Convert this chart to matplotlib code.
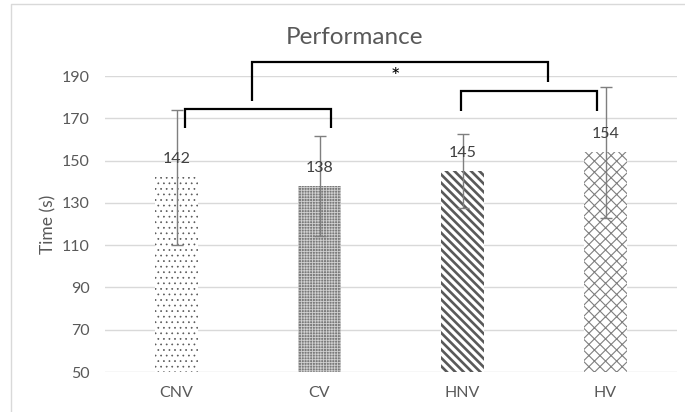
import matplotlib
matplotlib.use("Agg")
import matplotlib.pyplot as plt
from matplotlib.lines import Line2D

plt.rcParams['font.family'] = ['Lato', 'DejaVu Sans']

categories = ["CNV", "CV", "HNV", "HV"]
means = [142, 138, 145, 154]
errors = [32, 23.5, 17.5, 31]
yticks = [50, 70, 90, 110, 130, 150, 170, 190]

W, H = 685, 412
fig = plt.figure(figsize=(W / 100, H / 100), dpi=100)
fig.patch.set_facecolor("white")

# chart-area frame (left and top edges visible)
fig.add_artist(Line2D([11 / W, 11 / W, 1.0], [0.0, 1 - 4 / H, 1 - 4 / H],
                      color="#d9d9d9", lw=1.0, transform=fig.transFigure))

ax = fig.add_axes([105 / W, 40 / H, 572 / W, 296 / H])
ax.set_xlim(-0.5, len(categories) - 0.5)
ax.set_ylim(yticks[0], yticks[-1])

for yv in yticks:
    ax.axhline(yv, color="#d9d9d9", lw=1.0, zorder=0)

styles = [
    dict(facecolor="white", edgecolor="#595959", hatch="...", hlw=0.5),
    dict(facecolor="#7a7a7a", edgecolor="#d0d0d0", hatch="++++++", hlw=0.6),
    dict(facecolor="white", edgecolor="#595959", hatch="\\\\\\\\", hlw=1.9),
    dict(facecolor="white", edgecolor="#7f7f7f", hatch="xxx", hlw=0.8),
]

x = list(range(len(categories)))
for i, (xi, m, st) in enumerate(zip(x, means, styles)):
    with plt.rc_context({"hatch.linewidth": st["hlw"]}):
        bars = ax.bar(xi, m - yticks[0], bottom=yticks[0], width=0.30,
                      facecolor=st["facecolor"], edgecolor=st["edgecolor"],
                      hatch=st["hatch"], linewidth=0, zorder=2)
        for b in bars:
            if hasattr(b, "set_hatch_linewidth"):
                b.set_hatch_linewidth(st["hlw"])

ax.errorbar(x, means, yerr=errors, fmt="none", ecolor="#7f7f7f",
            elinewidth=1.0, capsize=4, capthick=1.0, zorder=3)

for xi, m in zip(x, means):
    ax.annotate(f"{m:g}", (xi, m), xytext=(0, 18), textcoords="offset pixels",
                ha="center", va="center", fontsize=11.5, color="#404040", zorder=4)

ax.set_xticks(x)
ax.set_xticklabels(categories)
ax.set_yticks(yticks)
ax.tick_params(axis="both", length=0, labelsize=11.5, labelcolor="#595959")
ax.tick_params(axis="y", pad=11)
ax.tick_params(axis="x", pad=10)
for s in ax.spines.values():
    s.set_visible(False)

fig.text(48 / W, 1 - 224 / H, "Time (s)", rotation=90, ha="center", va="center",
         fontsize=12.5, color="#595959")
fig.text(354 / W, 1 - 37 / H, "Performance", ha="center", va="center",
         fontsize=17.5, color="#595959")

# significance brackets
bk = dict(color="black", lw=1.6, clip_on=False, zorder=5,
          solid_joinstyle="miter", solid_capstyle="butt")
ax.plot([0.06, 0.06, 1.08, 1.08], [165.5, 174.4, 174.4, 165.5], **bk)
ax.plot([1.99, 1.99, 2.94, 2.94], [173.5, 183.0, 183.0, 173.5], **bk)
ax.plot([0.53, 0.53, 2.60, 2.60], [178.0, 196.8, 196.8, 187.0], **bk)
ax.text(1.53, 189.5, "*", ha="center", va="center", fontsize=16,
        color="black", clip_on=False)

fig.savefig("out.png", dpi=100)
